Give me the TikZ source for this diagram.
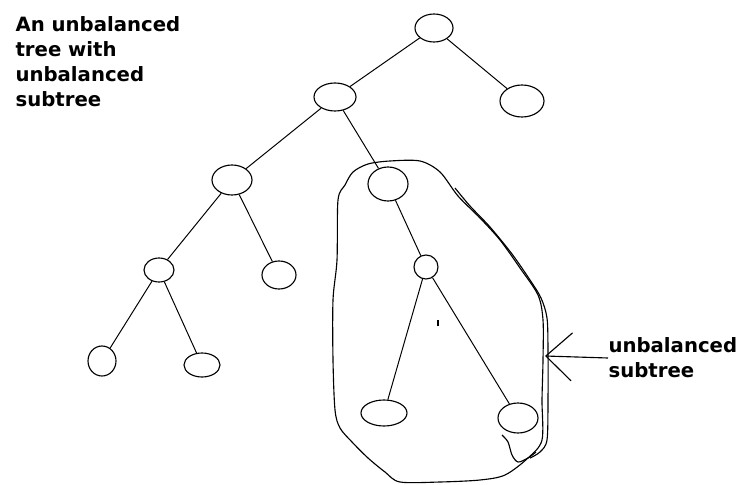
\documentclass[tikz,border=0pt]{standalone}
\usepackage{fontspec}
\usepackage{tikz}
\usetikzlibrary{arrows.meta}
\usetikzlibrary{shapes.geometric}

\newfontfamily\notefont{DejaVu Sans Bold}

\begin{document}
\begin{tikzpicture}[x=0.025cm, y=-0.025cm, line width=0.8pt,
        node_style/.style 2 args={ellipse,draw=black,inner sep=0pt,minimum width=#1*0.5mm,minimum height=#2*0.5mm},
        edge_style/.style={draw=black, line width=0.7pt},
        blob_style/.style={draw=black, line width=0.8pt},
        note_style/.style={align=left,inner sep=0pt,font=\notefont\fontsize{14}{17.7}\selectfont},
        arrow_style/.style={draw=black, line width=0.8pt, -{Straight Barb[length=6.5mm,width=12mm]}}]

        \useasboundingbox (0,0) rectangle (743,485);

        \node [note_style,anchor=north west](t1) at (15,16) {An unbalanced\\tree with\\unbalanced\\subtree};

        \node [node_style={19}{14}](n1) at (434,28) {};

        \node [node_style={21}{14}](n2) at (335,97) {};

        \node [node_style={22}{16}](n3) at (522,101) {};

        \node [node_style={20}{15}](n4) at (232,180) {};

        \node [node_style={20}{17}](n5) at (388,184) {};

        \node [node_style={15}{12}](n6) at (159,270) {};

        \node [node_style={17}{14}](n7) at (279,275) {};

        \node [node_style={14}{15}](n8) at (102,361) {};

        \node [node_style={18}{12}](n9) at (202,365) {};

        \node [node_style={12}{12}](n10) at (426,267) {};

        \node [node_style={23}{13}](n11) at (384,413) {};

        \node [node_style={20}{15}](n12) at (518,418) {};

        \draw [edge_style] (n1) edge (n2);

        \draw [edge_style] (n1) edge (n3);

        \draw [edge_style] (n2) edge (n4);

        \draw [edge_style] (n2) edge (n5);

        \draw [edge_style] (n4) edge (n6);

        \draw [edge_style] (n4) edge (n7);

        \draw [edge_style] (n6) edge (n8);

        \draw [edge_style] (n6) edge (n9);

        \draw [edge_style] (n5) edge (n10);

        \draw [edge_style] (n10) edge (n11);

        \draw [edge_style] (n10) edge (n12);

        % hand drawn loop round the subtree
        \draw [blob_style] plot[smooth cycle, tension=0.5] coordinates {
            (353,172) (368,164) (390,161) (420,161) (440,172) (458,196)
            (480,218) (500,240) (520,268) (538,295) (543,320) (543,360)
            (542,400) (542,440) (528,458) (505,475) (480,480) (440,482)
            (400,482) (385,472) (368,458) (352,442) (340,428) (335,410)
            (333,360) (333,300) (337,260) (338,200) (345,185)};
        \draw [blob_style] plot[smooth, tension=0.5] coordinates {
            (455,188) (470,206) (490,227) (512,254) (530,280) (541,298)
            (547,318) (548,350) (548,400) (547,440) (540,452) (530,458)};
        \draw [blob_style] plot[smooth, tension=0.5] coordinates {
            (502,435) (508,442) (512,455) (518,462) (528,458) (536,452)};
        \draw [blob_style] (438,320) -- (438,326);

        \node [note_style,anchor=west](t2) at (608,358) {unbalanced\\subtree};
        \coordinate (tip) at (545,356);
        \draw [arrow_style] (t2.west) -- (tip);

        \end{tikzpicture}
\end{document}
